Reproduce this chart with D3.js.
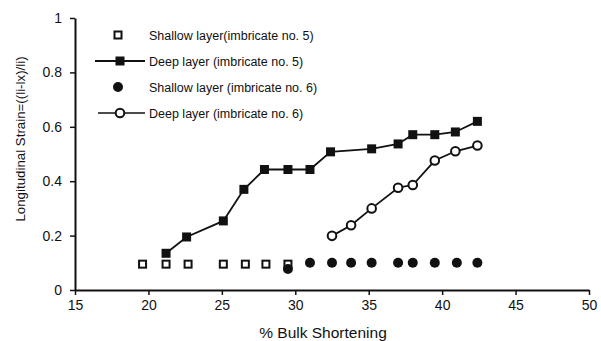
<!DOCTYPE html>
<html>
<head>
<meta charset="utf-8">
<script src="https://cdn.jsdelivr.net/npm/d3@7"></script>
<style>
  body { margin: 0; background: #fff; }
  text { font-family: "Liberation Sans", Arial, sans-serif; fill: #111; }
</style>
</head>
<body>
<script>
// Chart data
var shallow5X = [19.6, 21.2, 22.7, 25.1, 26.6, 28.0, 29.5];
var shallow5Y = [0.095, 0.095, 0.095, 0.095, 0.095, 0.095, 0.095];

var deep5X = [21.2, 22.6, 25.1, 26.5, 27.9, 29.5, 31.0, 32.4, 35.2, 37.0, 38.0, 39.5, 40.9, 42.4];
var deep5Y = [0.135, 0.195, 0.254, 0.37, 0.443, 0.443, 0.443, 0.508, 0.519, 0.537, 0.571, 0.571, 0.581, 0.62];

var shallow6X = [29.5, 31.0, 32.5, 33.8, 35.2, 37.0, 38.0, 39.5, 41.0, 42.4];
var shallow6Y = [0.077, 0.10, 0.10, 0.10, 0.10, 0.10, 0.10, 0.10, 0.10, 0.10];

var deep6X = [32.5, 33.8, 35.2, 37.0, 38.0, 39.5, 40.9, 42.4];
var deep6Y = [0.199, 0.238, 0.30, 0.376, 0.386, 0.476, 0.51, 0.531];

var xTicks = [15, 20, 25, 30, 35, 40, 45, 50];
var yTicks = [0, 0.2, 0.4, 0.6, 0.8, 1];

var legendNames = [
    "Shallow layer(imbricate no. 5)",
    "Deep layer (imbricate no. 5)",
    "Shallow layer (imbricate no. 6)",
    "Deep layer (imbricate no. 6)"
];

// SVG area
var svgWidth = 601;
var svgHeight = 341;

var svg = d3.select("body")
    .append("svg")
    .attr("width", svgWidth)
    .attr("height", svgHeight);

var xScale = d3.scaleLinear().domain([15, 50]).range([75, 589]);
var yScale = d3.scaleLinear().domain([0, 1]).range([290, 18]);

function zip(xs, ys) {
    return xs.map(function(x, i) { return {x: x, y: ys[i]}; });
}

// axes
var bottomAxis = d3.axisBottom(xScale).tickValues(xTicks).tickSize(5).tickSizeOuter(0).tickPadding(5);
var leftAxis = d3.axisLeft(yScale).tickValues(yTicks).tickSize(5).tickSizeOuter(0).tickPadding(8)
    .tickFormat(d3.format("~g"));

var xAxis = svg.append("g")
    .attr("transform", "translate(0, " + yScale(0) + ")")
    .call(bottomAxis);

var yAxis = svg.append("g")
    .attr("transform", "translate(" + xScale(15) + ", 0)")
    .call(leftAxis);

[xAxis, yAxis].forEach(function(ax) {
    ax.select(".domain").attr("stroke", "#111").attr("stroke-width", 2);
    ax.selectAll(".tick line").attr("stroke", "#111").attr("stroke-width", 1.5);
    ax.selectAll(".tick text").style("font-size", "14px").style("fill", "#111");
});

svg.append("text")
    .attr("x", 323)
    .attr("y", 338)
    .attr("text-anchor", "middle")
    .style("font-size", "15.5px")
    .text("% Bulk Shortening");

svg.append("text")
    .attr("transform", "translate(25, " + 139 + ") rotate(-90)")
    .attr("text-anchor", "middle")
    .style("font-size", "13.3px")
    .text("Longitudinal Strain=((li-lx)/li)");

// lines
var line = d3.line().x(d => xScale(d.x)).y(d => yScale(d.y));

svg.append("path")
    .datum(zip(deep5X, deep5Y))
    .attr("d", line)
    .attr("fill", "none")
    .attr("stroke", "#111")
    .attr("stroke-width", 1.8);

svg.append("path")
    .datum(zip(deep6X, deep6Y))
    .attr("d", line)
    .attr("fill", "none")
    .attr("stroke", "#111")
    .attr("stroke-width", 1.8);

// markers
var sq = 9;
svg.selectAll(".shallow5")
    .data(zip(shallow5X, shallow5Y))
    .enter()
    .append("rect")
    .attr("x", d => xScale(d.x) - (sq - 2) / 2)
    .attr("y", d => yScale(d.y) - (sq - 2) / 2)
    .attr("width", sq - 2)
    .attr("height", sq - 2)
    .attr("fill", "#fff")
    .attr("stroke", "#111")
    .attr("stroke-width", 2);

svg.selectAll(".deep5")
    .data(zip(deep5X, deep5Y))
    .enter()
    .append("rect")
    .attr("x", d => xScale(d.x) - sq / 2)
    .attr("y", d => yScale(d.y) - sq / 2)
    .attr("width", sq)
    .attr("height", sq)
    .attr("fill", "#111");

svg.selectAll(".shallow6")
    .data(zip(shallow6X, shallow6Y))
    .enter()
    .append("circle")
    .attr("cx", d => xScale(d.x))
    .attr("cy", d => yScale(d.y))
    .attr("r", 5)
    .attr("fill", "#111");

svg.selectAll(".deep6")
    .data(zip(deep6X, deep6Y))
    .enter()
    .append("circle")
    .attr("cx", d => xScale(d.x))
    .attr("cy", d => yScale(d.y))
    .attr("r", 4.3)
    .attr("fill", "#fff")
    .attr("stroke", "#111")
    .attr("stroke-width", 2);

// legend
var legendY = [35, 61, 87, 113];
var legend = svg.append("g");

legend.selectAll("text")
    .data(legendNames)
    .enter()
    .append("text")
    .attr("x", 149)
    .attr("y", (d, i) => legendY[i] + 4.5)
    .style("font-size", "12.5px")
    .text(d => d);

legend.append("rect")
    .attr("x", 118 - 3.5).attr("y", legendY[0] - 3.5)
    .attr("width", 7).attr("height", 7)
    .attr("fill", "#fff").attr("stroke", "#111").attr("stroke-width", 2);

legend.append("line")
    .attr("x1", 95).attr("x2", 145)
    .attr("y1", legendY[1]).attr("y2", legendY[1])
    .attr("stroke", "#111").attr("stroke-width", 1.8);
legend.append("rect")
    .attr("x", 120 - 4.5).attr("y", legendY[1] - 4.5)
    .attr("width", 9).attr("height", 9)
    .attr("fill", "#111");

legend.append("circle")
    .attr("cx", 118).attr("cy", legendY[2])
    .attr("r", 5).attr("fill", "#111");

legend.append("line")
    .attr("x1", 98).attr("x2", 145)
    .attr("y1", legendY[3]).attr("y2", legendY[3])
    .attr("stroke", "#111").attr("stroke-width", 1.5);
legend.append("circle")
    .attr("cx", 120).attr("cy", legendY[3])
    .attr("r", 4.3)
    .attr("fill", "#fff").attr("stroke", "#111").attr("stroke-width", 2);
</script>
</body>
</html>
